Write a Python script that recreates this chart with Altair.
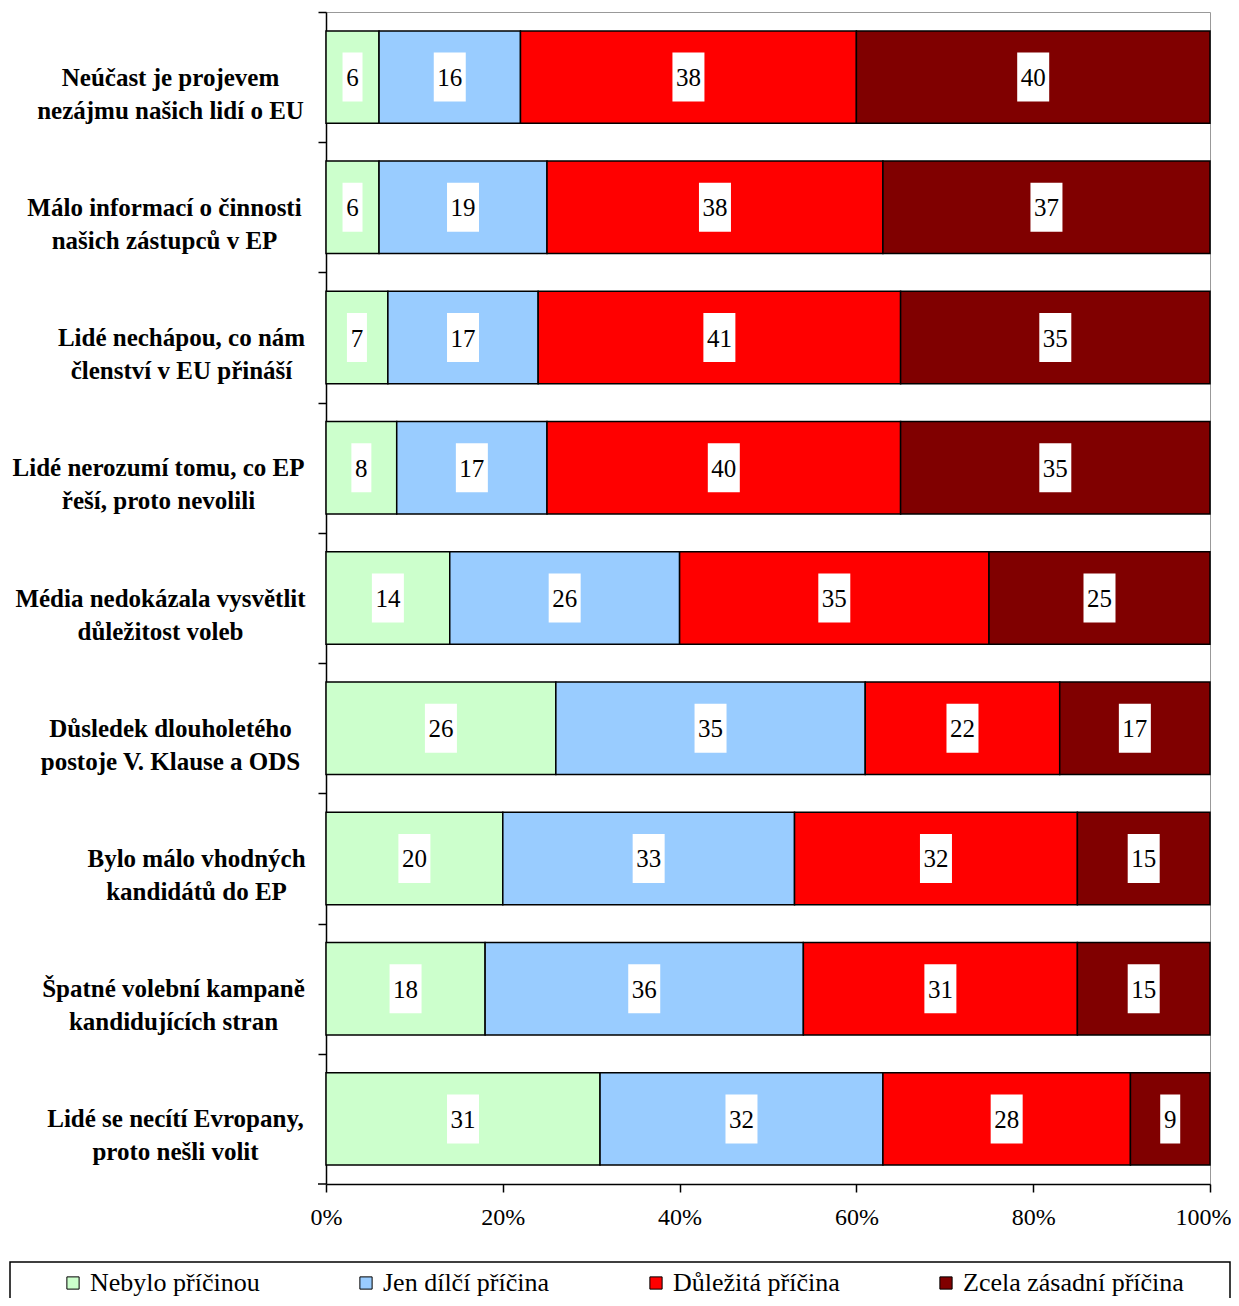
import altair as alt
import pandas as pd

categories = [
    ["Neúčast je projevem", "nezájmu našich lidí o EU"],
    ["Málo informací o činnosti", "našich zástupců v EP"],
    ["Lidé nechápou, co nám", "členství v EU přináší"],
    ["Lidé nerozumí tomu, co EP", "řeší, proto nevolili"],
    ["Média nedokázala vysvětlit", "důležitost voleb"],
    ["Důsledek dlouholetého", "postoje V. Klause a ODS"],
    ["Bylo málo vhodných", "kandidátů do EP"],
    ["Špatné volební kampaně", "kandidujících stran"],
    ["Lidé se necítí Evropany,", "proto nešli volit"],
]
series = ["Nebylo příčinou", "Jen dílčí příčina", "Důležitá příčina", "Zcela zásadní příčina"]
colors = ["#CCFFCC", "#99CCFF", "#FF0000", "#800000"]

nebylo = [6, 6, 7, 8, 14, 26, 20, 18, 31]
jen_dilci = [16, 19, 17, 17, 26, 35, 33, 36, 32]
dulezita = [38, 38, 41, 40, 35, 22, 32, 31, 28]
zasadni = [40, 37, 35, 35, 25, 17, 15, 15, 9]

x_ticks = [0, 20, 40, 60, 80, 100]

# style: per-label padding so each label block ends near the same right edge
label_pad = [148, 154, 137, 160, 158, 148, 122, 145, 143]

PLOT_W, PLOT_H = 884, 1172
step = PLOT_H / len(categories)

cat_names = ["\n".join(c) for c in categories]
rows = []
for si, (s, vals) in enumerate(zip(series, [nebylo, jen_dilci, dulezita, zasadni])):
    for cname, v in zip(cat_names, vals):
        rows.append({"cat": cname, "series": s, "order": si, "value": v,
                     "nd": str(len(str(v)))})
df = pd.DataFrame(rows)

FONT = "Liberation Serif"

pad_cond = {
    "condition": [
        {"test": "split(datum.value, '\\n')[0] === '%s'" % c[0], "value": p}
        for c, p in zip(categories, label_pad)
    ],
    "value": 150,
}

base = alt.Chart(df).transform_stack(
    stack="value", groupby=["cat"], as_=["v0", "v1"],
    sort=[alt.SortField("order", order="ascending")]
).transform_calculate(mid="(datum.v0 + datum.v1) / 2")

y_enc = alt.Y("cat:N", sort=cat_names, title=None,
              scale=alt.Scale(paddingInner=0.29, paddingOuter=0.145),
              axis=alt.Axis(labelExpr="split(datum.label, '\\n')",
                            labelFont=FONT, labelFontSize=25, labelFontWeight="bold",
                            labelColor="black", labelAlign="center", labelBaseline="middle",
                            labelLineHeight=33, labelPadding=pad_cond, labelLimit=400,
                            labelOffset=step / 2,
                            tickOffset=-step / 2, tickSize=8, tickColor="black", tickWidth=1.5,
                            domainColor="black", domainWidth=1.5))

x_scale = alt.Scale(domain=[0, 100], nice=False)

bars = base.mark_bar(stroke="black", strokeWidth=1.5).encode(
    x=alt.X("v0:Q", scale=x_scale, title=None,
            axis=alt.Axis(values=x_ticks, labelExpr="datum.value + '%'",
                          labelFont=FONT, labelFontSize=24, labelColor="black",
                          labelFlush=False,
                          labelOffset={"condition": {"test": "datum.value === 100", "value": -7},
                                       "value": 0},
                          labelPadding=13, tickSize=8, tickColor="black", tickWidth=1.5,
                          domainColor="black", domainWidth=1.5, grid=False)),
    x2="v1:Q",
    y=y_enc,
    color=alt.Color("series:N", scale=alt.Scale(domain=series, range=colors),
                    legend=alt.Legend(title=None, orient="none", legendX=-266, legendY=1258,
                                      direction="horizontal", columns=4, columnPadding=93,
                                      symbolType="square", symbolSize=150,
                                      symbolStrokeColor="black", symbolStrokeWidth=1,
                                      labelFont=FONT, labelFontSize=26, labelColor="black",
                                      labelOffset=4, labelLimit=400, padding=0)),
)

p1 = "M-0.408,-1L0.408,-1L0.408,1L-0.408,1Z"
p2 = "M-0.653,-1L0.653,-1L0.653,1L-0.653,1Z"

boxes = base.mark_point(filled=True, fill="white", opacity=1, strokeWidth=0, size=2401).encode(
    x=alt.X("mid:Q", scale=x_scale),
    y=alt.Y("cat:N", sort=cat_names),
    shape=alt.Shape("nd:N", scale=alt.Scale(domain=["1", "2"], range=[p1, p2]), legend=None),
)

texts = base.mark_text(font=FONT, fontSize=25, color="black", baseline="middle", dy=1).encode(
    x=alt.X("mid:Q", scale=x_scale),
    y=alt.Y("cat:N", sort=cat_names),
    text="value:Q",
)

decor = alt.Data(values=[{"a": 1}])
bottom_tick = alt.Chart(decor).mark_rule(color="black", strokeWidth=1.5, clip=False).encode(
    x=alt.value(-8), x2=alt.value(0), y=alt.value(PLOT_H))

frame = alt.Chart(decor).mark_rect(
    fill=None, stroke="black", strokeWidth=1.5, clip=False
).encode(x=alt.value(-316), x2=alt.value(904), y=alt.value(1250), y2=alt.value(1289))

chart = alt.layer(bars, boxes, texts, bottom_tick, frame).properties(
    width=PLOT_W, height=PLOT_H,
    autosize=alt.AutoSizeParams(type="none"),
    padding={"left": 318, "top": 4, "right": 21, "bottom": 114},
).configure_view(stroke="#999999", strokeWidth=1).configure_axis(grid=False)

chart.save("out.html", embed_options={"renderer": "svg", "actions": False})
